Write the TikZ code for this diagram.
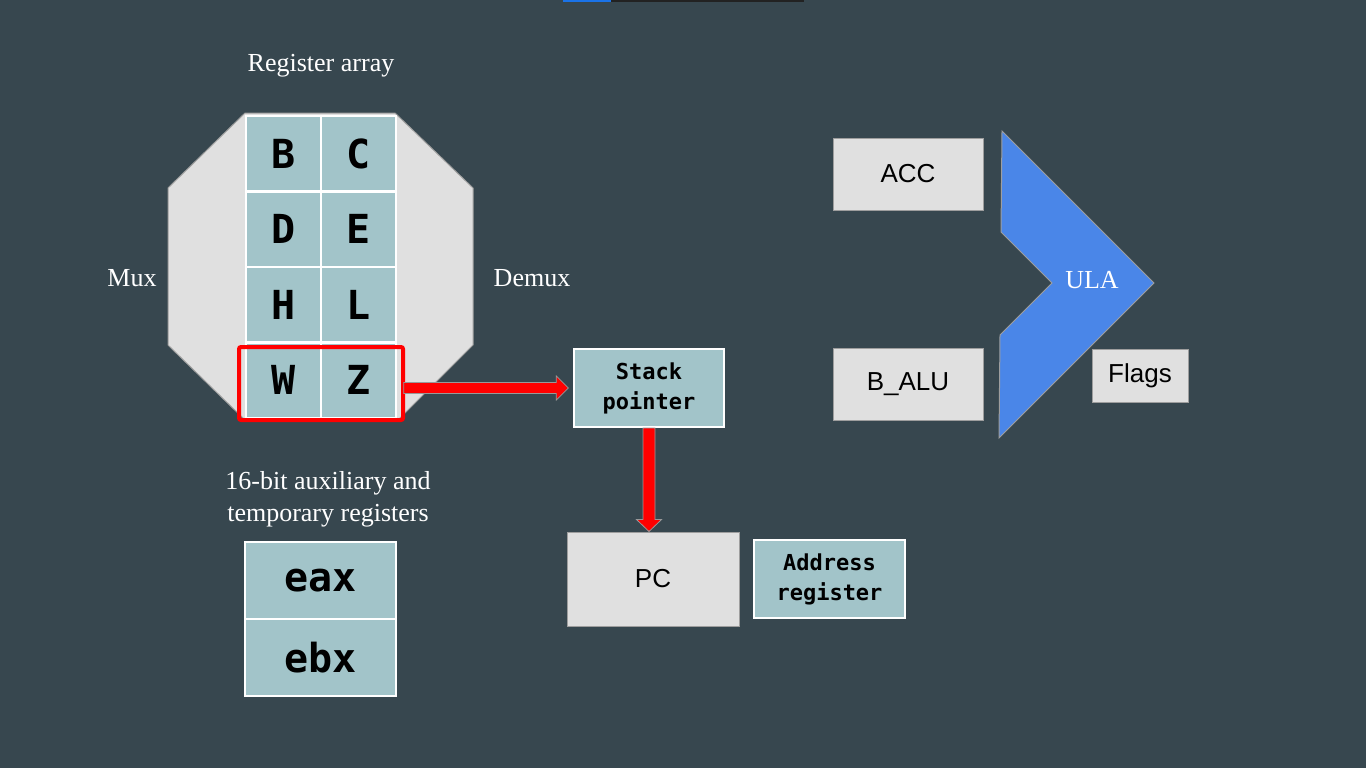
\documentclass[tikz,border=0pt]{standalone}
\usepackage{fontspec}
\newfontfamily\regmono{DejaVu Sans Mono}
\newfontfamily\arialf{Liberation Sans}
\newfontfamily\serf{Liberation Serif}
\usetikzlibrary{calc}
\definecolor{bg}{HTML}{37474F}
\definecolor{cellc}{HTML}{A2C4C9}
\definecolor{greyc}{HTML}{E0E0E0}
\definecolor{edgec}{HTML}{9E9E9E}
\definecolor{ulac}{HTML}{4A86E8}
\definecolor{barblue}{HTML}{1A73E8}
\definecolor{bardark}{HTML}{222222}
\begin{document}
\begin{tikzpicture}[x=0.75pt,y=-0.75pt,
  cell/.style={rectangle, fill=cellc, draw=white, line width=1.5pt, inner sep=0pt,
    minimum width=56.25pt, minimum height=56.6pt, text=black,
    font=\regmono\bfseries\fontsize{30}{30}\selectfont},
  tallcell/.style={cell, minimum width=113.25pt, minimum height=57.75pt},
  monobox/.style={rectangle, fill=cellc, draw=white, line width=1.5pt, inner sep=0pt,
    align=center, text=black, font=\regmono\bfseries\fontsize{16.5}{22.5}\selectfont},
  greybox/.style={rectangle, fill=greyc, draw=edgec, line width=0.75pt, inner sep=0pt,
    text=black, font=\arialf\fontsize{19.5}{22}\selectfont},
  lbl/.style={text=white, align=center, font=\serf\fontsize{19.5}{24}\selectfont},
  blockarr/.style={fill=red, draw=gray!80, line width=0.6pt, line join=miter}
]
\fill[bg] (0,0) rectangle (1366,768);
\useasboundingbox (0,0) rectangle (1366,768);
% top bar
\fill[barblue] (563,0) rectangle (611,2);
\fill[bardark] (611,0) rectangle (804,2);

% labels
\node[lbl] (lregs) at (321,66) {Register array};
\node[lbl] (lmux) at (132,278) {Mux};
\node[lbl] (ldemux) at (532,278) {Demux};
\node[lbl] (laux) at (328,499) {16-bit auxiliary and\\temporary registers};

% octagon
\draw[fill=greyc, draw=edgec, line width=0.75pt]
  (245,113) -- (395,113) -- (473,188) -- (473,345) -- (398,420) -- (245,420)
  -- (168,345) -- (168,188) -- cycle;

% register grid
\node[cell] (B) at (283.5,153.75) {B};
\node[cell] (C) at (358.5,153.75) {C};
\node[cell] (D) at (283.5,229.25) {D};
\node[cell] (E) at (358.5,229.25) {E};
\node[cell] (H) at (283.5,304.75) {H};
\node[cell] (L) at (358.5,304.75) {L};
\node[cell] (W) at (283.5,380.25) {W};
\node[cell] (Z) at (358.5,380.25) {Z};
\node[draw=red, line width=3pt, rounded corners=1.5pt, inner sep=0pt,
  minimum width=123pt, minimum height=54.75pt] (wz) at (321,383.5) {};

% aux registers
\node[tallcell] (eax) at (320.5,580.5) {eax};
\node[tallcell] (ebx) at (320.5,657.5) {ebx};

% stack pointer, PC, address register
\node[monobox, minimum width=112.5pt, minimum height=58.5pt] (sp) at (649,388) {Stack\\pointer};
\node[greybox, minimum width=129pt, minimum height=70.5pt] (pc) at (653,579) {PC};
\node[monobox, minimum width=113.25pt, minimum height=58.5pt] (addr) at (829.5,579) {Address\\register};

% ALU area
\node[greybox, minimum width=112.5pt, minimum height=54pt] (acc) at (908,174) {ACC};
\node[greybox, minimum width=112.5pt, minimum height=54pt] (balu) at (908,384) {B\_ALU};
\draw[fill=ulac, draw=edgec, line width=0.75pt]
  (1002,131) -- (1154,283) -- (999,438) -- (1000,335) -- (1052,283) -- (1001,232) -- cycle;
\node[text=white, font=\serf\fontsize{19.5}{24}\selectfont] (ula) at (1092,280) {ULA};
\node[greybox, minimum width=72pt, minimum height=39.75pt] (flags) at (1140,375.5) {Flags};

% arrows
\draw[blockarr] let \p1=(wz.east), \p2=(sp.west) in
  (\x1-1pt,\y2+4.1pt) -- (\x2-12.5pt,\y2+4.1pt) -- (\x2-12.5pt,\y2+9pt) -- (\x2-3.5pt,\y2)
  -- (\x2-12.5pt,\y2-9pt) -- (\x2-12.5pt,\y2-4.1pt) -- (\x1-1pt,\y2-4.1pt) -- cycle;
\draw[blockarr] let \p1=(sp.south), \p2=(pc.north) in
  (\x1-4.5pt,\y1) -- (\x1-4.5pt,\y2+9pt) -- (\x1-9.4pt,\y2+9pt) -- (\x1,\y2)
  -- (\x1+9.4pt,\y2+9pt) -- (\x1+4.5pt,\y2+9pt) -- (\x1+4.5pt,\y1) -- cycle;
\end{tikzpicture}
\end{document}
